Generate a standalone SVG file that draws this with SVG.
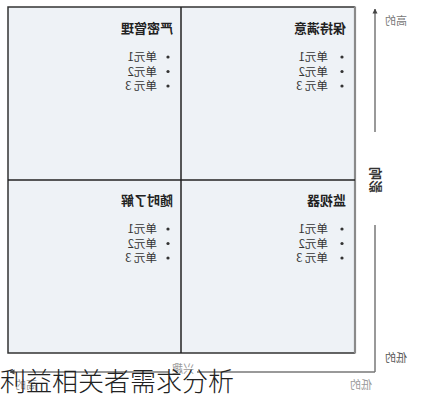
<svg xmlns="http://www.w3.org/2000/svg" width="435" height="400" viewBox="0 0 435 400">
<style>
text{font-family:"Noto Sans CJK SC","Noto Sans",sans-serif}
.ttl{font-size:13px;font-weight:bold;fill:#222}
.it{font-size:11.5px;fill:#333}
.ax{stroke:#777;stroke-width:1.5;fill:none}
.lb{font-size:11px;fill:#777}
.dot{fill:#333}
</style>
<defs>
<marker id="arr" viewBox="0 0 10 10" refX="9" refY="5" markerWidth="5" markerHeight="6" orient="auto-start-reverse" markerUnits="userSpaceOnUse">
<path d="M0,0 L10,5 L0,10 z" fill="#444"/>
</marker>
</defs>
<rect width="435" height="400" fill="#fff"/>
<g id="diagram" transform="matrix(-1 0 0 1 435 0)">
<g id="grid">
<rect x="80" y="7" width="347" height="346" fill="#eef2f6"/>
<path d="M80,7 H427 V353 H80" fill="none" stroke="#333" stroke-width="1.5"/>
<line x1="80" y1="6.5" x2="80" y2="353.5" stroke="#8a8a8a" stroke-width="2.2"/>
<line x1="254" y1="7" x2="254" y2="353" stroke="#222" stroke-width="1.5"/>
<line x1="80" y1="180" x2="427" y2="180" stroke="#222" stroke-width="1.5"/>
</g>
<g id="connectors">
<line class="ax" x1="60" y1="132" x2="60" y2="9" marker-end="url(#arr)"/>
<line class="ax" x1="60" y1="225" x2="60" y2="372"/>
<line class="ax" x1="60" y1="372" x2="238" y2="372"/>
<line class="ax" x1="266" y1="372" x2="425" y2="372" marker-end="url(#arr)"/>
</g>
<g id="axis-labels">
<text class="lb" x="50" y="25" text-anchor="end" fill="#666">高的</text>
<text class="lb" x="50" y="362" text-anchor="end" style="fill:#555">低的</text>
<text transform="translate(64,180) rotate(-90)" text-anchor="middle" style="font-size:13px;font-weight:bold;fill:#333">影响</text>
<text class="lb" x="63" y="389" style="fill:#999">低的</text>
<text class="lb" x="252" y="373" text-anchor="middle" style="fill:#999">兴趣</text>
<text class="lb" x="420" y="389" text-anchor="end" style="fill:#999">高的</text>
</g>
<g id="q-manage-closely">
<text class="ttl" x="262" y="33">严密管理</text>
<circle class="dot" cx="267" cy="57" r="1.6"/><text class="it" x="278" y="61">单元1</text>
<circle class="dot" cx="267" cy="71.5" r="1.6"/><text class="it" x="278" y="75.5">单元2</text>
<circle class="dot" cx="267" cy="86" r="1.6"/><text class="it" x="278" y="90">单元 3</text>
</g>
<g id="q-keep-satisfied">
<text class="ttl" x="89" y="33">保持满意</text>
<circle class="dot" cx="93" cy="57" r="1.6"/><text class="it" x="107" y="61">单元1</text>
<circle class="dot" cx="93" cy="71.5" r="1.6"/><text class="it" x="107" y="75.5">单元2</text>
<circle class="dot" cx="93" cy="86" r="1.6"/><text class="it" x="107" y="90">单元 3</text>
</g>
<g id="q-keep-informed">
<text class="ttl" x="262" y="205">随时了解</text>
<circle class="dot" cx="267" cy="229" r="1.6"/><text class="it" x="278" y="233">单元1</text>
<circle class="dot" cx="267" cy="243.5" r="1.6"/><text class="it" x="278" y="247.5">单元2</text>
<circle class="dot" cx="267" cy="258" r="1.6"/><text class="it" x="278" y="262">单元 3</text>
</g>
<g id="q-monitor">
<text class="ttl" x="89" y="205">监视器</text>
<circle class="dot" cx="93" cy="229" r="1.6"/><text class="it" x="107" y="233">单元1</text>
<circle class="dot" cx="93" cy="243.5" r="1.6"/><text class="it" x="107" y="247.5">单元2</text>
<circle class="dot" cx="93" cy="258" r="1.6"/><text class="it" x="107" y="262">单元 3</text>
</g>
</g>
<text id="caption" x="0" y="391" style="font-size:26px;font-weight:300;fill:#222">利益相关者需求分析</text>
</svg>
